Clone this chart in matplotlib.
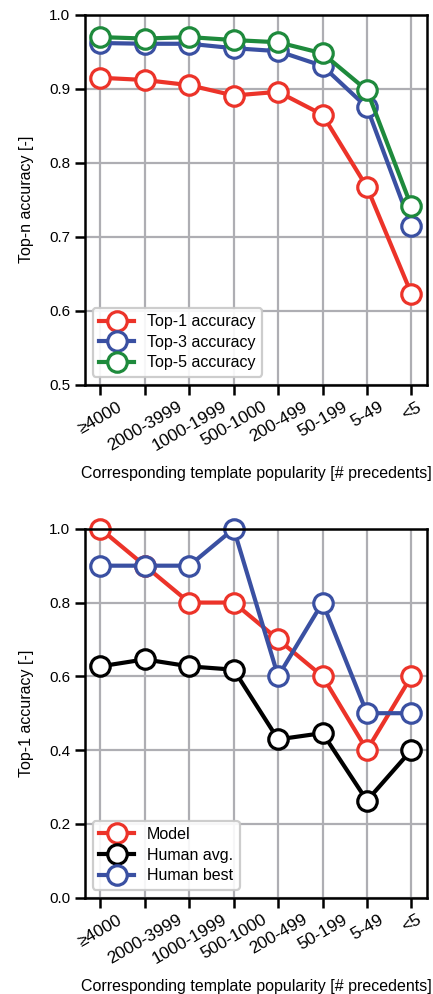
import numpy as np
import matplotlib.pyplot as plt

plt.rcParams['font.family'] = ['Liberation Sans', 'DejaVu Sans']

bins = ['≥4000', '2000-3999', '1000-1999', '500-1000', '200-499', '50-199', '5-49', '<5']

top1 = [0.915, 0.912, 0.905, 0.891, 0.896, 0.865, 0.767, 0.623]
top3 = [0.962, 0.961, 0.961, 0.955, 0.951, 0.931, 0.875, 0.714]
top5 = [0.970, 0.968, 0.970, 0.966, 0.963, 0.948, 0.898, 0.741]

model = [1.0, 0.9, 0.8, 0.8, 0.7, 0.6, 0.4, 0.6]
human_avg = [0.627, 0.646, 0.627, 0.618, 0.429, 0.446, 0.263, 0.400]
human_best = [0.9, 0.9, 0.9, 1.0, 0.6, 0.8, 0.5, 0.5]

red = '#ec3329'
blue = '#3a50a2'
green = '#1e8a3c'
black = '#000000'

fig = plt.figure(figsize=(4.33, 9.94), dpi=100)
ax1 = fig.add_axes([0.196, 0.613, 0.79, 0.372])
ax2 = fig.add_axes([0.196, 0.097, 0.79, 0.371])

x = np.arange(len(bins))
style = dict(marker='o', markerfacecolor='white', markersize=14, markeredgewidth=2.3, linewidth=3.0)

ax1.plot(x, top1, color=red, label='Top-1 accuracy', **style)
ax1.plot(x, top3, color=blue, label='Top-3 accuracy', **style)
ax1.plot(x, top5, color=green, label='Top-5 accuracy', **style)
ax1.set_ylim(0.5, 1.0)
ax1.set_yticks([0.5, 0.6, 0.7, 0.8, 0.9, 1.0])
ax1.set_ylabel('Top-n accuracy [-]', fontsize=11.5, labelpad=11)

ax2.plot(x, model, color=red, label='Model', **style)
ax2.plot(x, human_avg, color=black, label='Human avg.', **style)
ax2.plot(x, human_best, color=blue, label='Human best', **style)
ax2.set_ylim(0.0, 1.0)
ax2.set_yticks([0.0, 0.2, 0.4, 0.6, 0.8, 1.0])
ax2.set_ylabel('Top-1 accuracy [-]', fontsize=11.5, labelpad=11)

for ax in (ax1, ax2):
    for l in ax.get_lines():
        l.set_clip_on(False)
    ax.set_xlim(-0.35, 7.35)
    ax.set_xticks(x)
    ax.set_xticklabels(bins, rotation=30, ha='center')
    ax.grid(True, color='#aeaeb3', linewidth=1.6)
    ax.set_axisbelow(True)
    for s in ax.spines.values():
        s.set_linewidth(1.8)
    ax.tick_params(direction='out', length=7, width=1.8, labelsize=11)
    ax.tick_params(axis='x', labelsize=12.5)
    ax.set_xlabel('Corresponding template popularity [# precedents]', fontsize=11.5, labelpad=9)
    leg = ax.legend(loc='lower left', fontsize=11.5, edgecolor='#c8c8c8', framealpha=0.9,
                    handlelength=2.2, borderaxespad=0.5, labelspacing=0.35)
    leg.get_frame().set_linewidth(1.6)

fig.savefig('out.png', dpi=100)
